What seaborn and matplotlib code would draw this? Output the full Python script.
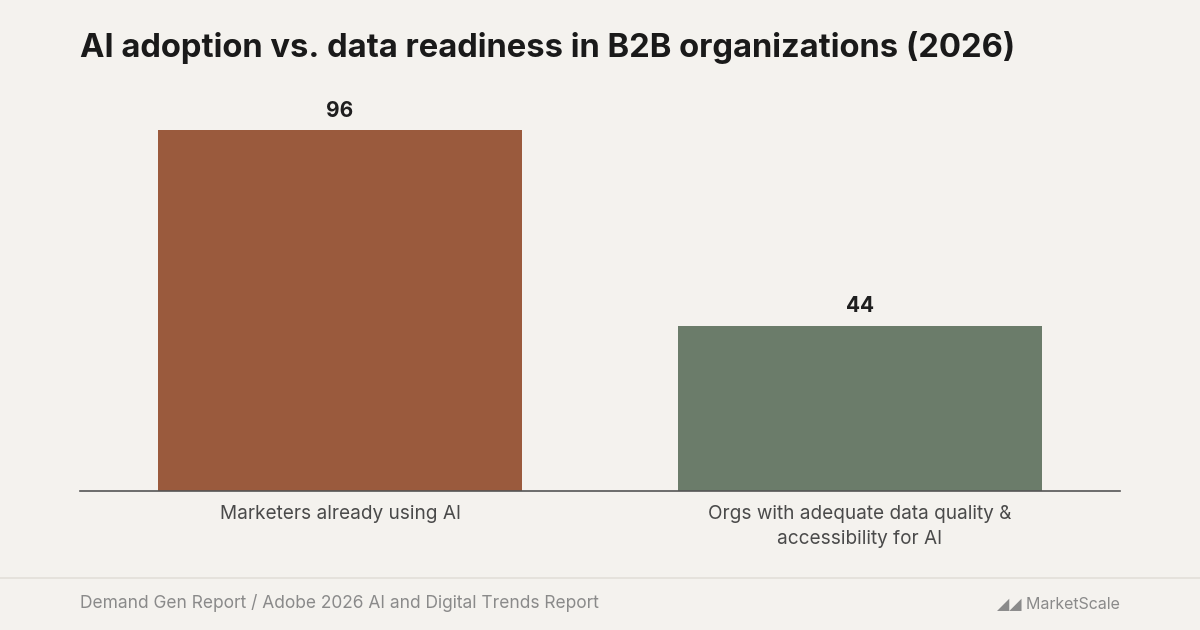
import matplotlib
matplotlib.use("Agg")
import matplotlib.pyplot as plt
import seaborn as sns
import pandas as pd

categories = ["Marketers already using AI", "Orgs with adequate data quality &\naccessibility for AI"]
values = [96, 44]
colors = ["#9A5A3D", "#6B7C6A"]

bg = "#F4F2EE"
sns.set_theme(style="white")
plt.rcParams['font.family'] = ['Inter', 'DejaVu Sans']

fig = plt.figure(figsize=(12, 6.3), dpi=100, facecolor=bg)
ax = fig.add_axes([80/1200, 1-491/630, 1040/1200, 391/630], facecolor=bg)

df = pd.DataFrame({"cat": categories, "val": values})
sns.barplot(data=df, x="cat", y="val", hue="cat", palette=colors, width=0.7,
            legend=False, ax=ax, saturation=1, linewidth=0)
for i, v in enumerate(values):
    ax.text(i, v + 2.5, str(v), ha="center", va="bottom", fontsize=15,
            fontweight="bold", color="#1f1f1f")

ax.set_xlim(-0.5, 1.5)
ax.set_ylim(0, 104)
ax.set_xlabel("")
ax.set_ylabel("")
ax.set_yticks([])
for s in ["top", "right", "left"]:
    ax.spines[s].set_visible(False)
ax.spines["bottom"].set_color("#555555")
ax.spines["bottom"].set_linewidth(1.2)
ax.tick_params(axis="x", length=0, pad=10, labelsize=13.7, labelcolor="#4a4a4a")
for lbl in ax.get_xticklabels():
    lbl.set_linespacing(1.5)

fig.text(80/1200, 1-47/630, "AI adoption vs. data readiness in B2B organizations (2026)",
         fontsize=23.6, fontweight="bold", color="#1a1a1a", va="center", ha="left")
fig.add_artist(plt.Line2D([0, 1], [1-578/630]*2, color="#E2DFD9", lw=1.2))
fig.text(80/1200, 1-603/630, "Demand Gen Report / Adobe 2026 AI and Digital Trends Report",
         fontsize=12.5, color="#8a8a8a", va="center", ha="left")
fig.text(1120/1200, 1-604/630, "◢◢ MarketScale", fontsize=11.5, color="#8a8a8a",
         va="center", ha="right", family=['Inter', 'DejaVu Sans'])

fig.savefig("out.png", dpi=100, facecolor=bg)
